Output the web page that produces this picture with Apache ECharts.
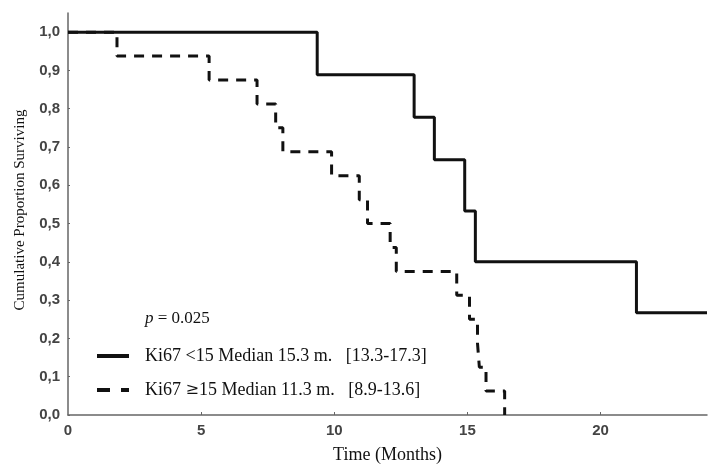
<!DOCTYPE html>
<html><head><meta charset="utf-8">
<script src="https://cdn.jsdelivr.net/npm/echarts@6/dist/echarts.min.js"></script>
<style>html,body{margin:0;padding:0;background:#fff}#c{width:718px;height:474px}</style>
</head><body><div id="c"></div>
<script>
// Kaplan-Meier step data (time in months, cumulative proportion surviving)
const lowTimes = [0, 9.36, 13.0, 13.76, 14.9, 15.3, 21.35, 24.0];
const lowSurv  = [1.0, 0.889, 0.778, 0.667, 0.533, 0.400, 0.267, 0.267];
const highTimes = [0, 1.84, 5.3, 7.1, 7.8, 8.07, 9.9, 10.94, 11.25, 12.1, 12.33, 14.6, 15.08, 15.38, 15.45, 15.7, 16.4];
const highSurv  = [1.0, 0.9375, 0.875, 0.8125, 0.75, 0.6875, 0.625, 0.5625, 0.5, 0.4375, 0.375, 0.3125, 0.25, 0.1875, 0.125, 0.0625, 0];
const seriesNames = ['Ki67 <15 Median 15.3 m.   [13.3-17.3]', 'Ki67 \u226515 Median 11.3 m.   [8.9-13.6]'];
const xTicks = [0, 5, 10, 15, 20];
const yTicks = [0, 0.1, 0.2, 0.3, 0.4, 0.5, 0.6, 0.7, 0.8, 0.9, 1.0];
const pValue = '0.025';
const xTitle = 'Time (Months)';
const yTitle = 'Cumulative Proportion Surviving';

const zip = (a, b) => a.map((v, i) => [v, b[i]]);
const chart = echarts.init(document.getElementById('c'), null, {renderer: 'canvas'});
const axisCol = '#666';
const labelStyle = {color: '#444', fontFamily: 'Liberation Sans', fontWeight: 'bold', fontSize: 15};
chart.setOption({
  animation: false,
  backgroundColor: '#fff',
  grid: {left: 68, right: 11, top: 13, bottom: 59},
  xAxis: {
    type: 'value', min: 0, max: 24,
    axisLine: {show: true, onZero: false, lineStyle: {color: axisCol, width: 1.5}},
    axisTick: {show: true, inside: true, length: 3, customValues: xTicks.slice(1), lineStyle: {color: axisCol}},
    axisLabel: Object.assign({customValues: xTicks, margin: 8}, labelStyle),
    splitLine: {show: false},
    name: xTitle, nameLocation: 'middle', nameGap: 31,
    nameTextStyle: {fontFamily: 'Liberation Serif', fontSize: 18, color: '#111'}
  },
  yAxis: {
    type: 'value', min: 0, max: 1.05,
    axisLine: {show: true, onZero: false, lineStyle: {color: axisCol, width: 1.5}},
    axisTick: {show: true, inside: true, length: 2, customValues: yTicks, lineStyle: {color: axisCol}},
    axisLabel: Object.assign({customValues: yTicks, margin: 8,
      formatter: v => v.toFixed(1).replace('.', ',')}, labelStyle),
    splitLine: {show: false}
  },
  legend: {
    orient: 'vertical', left: 95, top: 347, padding: 0, itemWidth: 32, itemHeight: 16, itemGap: 16,
    itemStyle: {opacity: 0},
    textStyle: {fontFamily: 'Liberation Serif', fontSize: 18, color: '#111', padding: [0, 0, 0, 11],
      rich: {g: {fontFamily: 'DejaVu Serif', fontSize: 16, color: '#111'}}},
    formatter: name => name.replace('\u2265', '{g|\u2265}'),
    data: [
      {name: seriesNames[0], lineStyle: {color: '#111', width: 4, type: 'solid'}},
      {name: seriesNames[1], lineStyle: {color: '#111', width: 4, type: [13, 11]}}
    ]
  },
  graphic: [
    {type: 'text', left: 145, top: 310, style: {
      text: '{i|p} = ' + pValue,
      rich: {i: {fontStyle: 'italic', fontFamily: 'Liberation Serif', fontSize: 17, fill: '#111'}},
      fontFamily: 'Liberation Serif', fontSize: 17, fill: '#111'}},
    {type: 'text', x: 20, y: 210, rotation: Math.PI / 2, style: {
      text: yTitle, fontFamily: 'Liberation Serif', fontSize: 15, fill: '#111',
      align: 'center', verticalAlign: 'middle'}}
  ],
  series: [
    {name: seriesNames[1], type: 'line', step: 'end', symbol: 'none', z: 2,
     data: zip(highTimes, highSurv),
     lineStyle: {color: '#111', width: 3, type: [10, 8]}, itemStyle: {color: '#111'}},
    {name: seriesNames[0], type: 'line', step: 'end', symbol: 'none', z: 3,
     data: zip(lowTimes, lowSurv),
     lineStyle: {color: '#111', width: 3, type: 'solid'}, itemStyle: {color: '#111'}}
  ]
});
</script></body></html>
